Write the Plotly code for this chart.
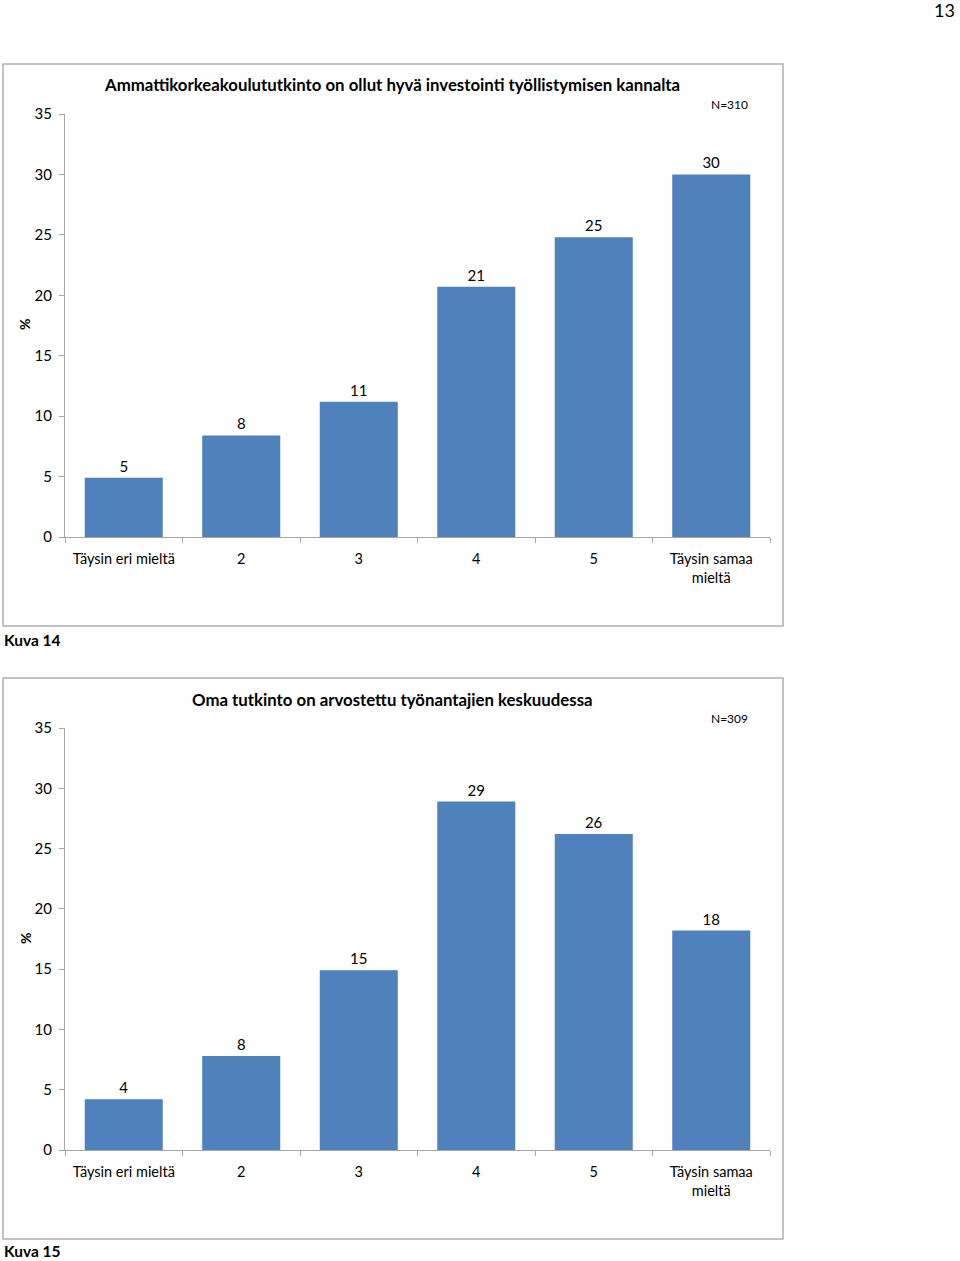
import plotly.graph_objects as go

categories = ["Täysin eri mieltä", "2", "3", "4", "5", "Täysin samaa<br>mieltä"]
values_14 = [4.9, 8.4, 11.2, 20.7, 24.8, 30.0]
labels_14 = ["5", "8", "11", "21", "25", "30"]
values_15 = [4.2, 7.8, 14.9, 28.9, 26.2, 18.2]
labels_15 = ["4", "8", "15", "29", "26", "18"]
title_14 = "Ammattikorkeakoulututkinto on ollut hyvä investointi työllistymisen kannalta"
title_15 = "Oma tutkinto on arvostettu työnantajien keskuudessa"
n_14 = "N=310"
n_15 = "N=309"
y_ticks = [0, 5, 10, 15, 20, 25, 30, 35]

W, H = 960, 1261
FONT = "Lato, 'Open Sans', sans-serif"
BLUE = "#4F81BD"
GREY = "#A6A6A6"

def py(px):
    return 1 - px / H

def px_x(px):
    return px / W

fig = go.Figure()
fig.add_trace(go.Bar(x=categories, y=values_14, text=labels_14, textposition="outside",
                     marker=dict(color=BLUE, line=dict(width=0)), cliponaxis=False,
                     textfont=dict(size=15, color="#000"), xaxis="x", yaxis="y", showlegend=False))
fig.add_trace(go.Bar(x=categories, y=values_15, text=labels_15, textposition="outside",
                     marker=dict(color=BLUE, line=dict(width=0)), cliponaxis=False,
                     textfont=dict(size=15, color="#000"), xaxis="x2", yaxis="y2", showlegend=False))

xdom = [px_x(65), px_x(770)]
xcommon = dict(type="category", domain=xdom, showline=True, linecolor=GREY, linewidth=1, ticks="outside",
               tickson="boundaries", ticklen=5, tickcolor=GREY, showgrid=False, automargin=False,
               ticklabelstandoff=9, zeroline=False,
               tickfont=dict(size=14.5, color="#000", family=FONT), fixedrange=True)
ycommon = dict(type="linear", range=[0, 35], tickvals=y_ticks, showline=True, linecolor=GREY, linewidth=1,
               ticks="outside", ticklen=5, tickcolor=GREY, showgrid=False, zeroline=False,
               automargin=False, fixedrange=True,
               tickfont=dict(size=15, color="#000", family=FONT), ticklabelstandoff=4)

fig.update_layout(
    template="none",
    width=W, height=H, margin=dict(l=0, r=0, t=0, b=0, pad=0, autoexpand=False),
    paper_bgcolor="white", plot_bgcolor="white",
    font=dict(family=FONT, color="#000"),
    bargap=0.336,
    xaxis=dict(anchor="y", **xcommon),
    yaxis=dict(domain=[py(537), py(114)], anchor="x", **ycommon),
    xaxis2=dict(anchor="y2", **xcommon),
    yaxis2=dict(domain=[py(1150), py(728)], anchor="x2", **ycommon),
)

shapes = []
for top, bot in [(64, 626), (678, 1239)]:
    shapes.append(dict(type="rect", xref="paper", yref="paper", x0=px_x(3), x1=px_x(783),
                       y0=py(bot), y1=py(top), line=dict(color="#B0B0B0", width=1.5)))
fig.update_layout(shapes=shapes)

ann = []
ann.append(dict(text="<b>" + title_14 + "</b>", x=px_x(392), y=py(85), xref="paper", yref="paper",
                showarrow=False, font=dict(size=16.8, family=FONT), xanchor="center", yanchor="middle"))
ann.append(dict(text="<b>" + title_15 + "</b>", x=px_x(392), y=py(699), xref="paper", yref="paper",
                showarrow=False, font=dict(size=16.8, family=FONT), xanchor="center", yanchor="middle"))
ann.append(dict(text=n_14, x=px_x(750), y=py(104), xref="paper", yref="paper", showarrow=False,
                font=dict(size=12, family=FONT), xanchor="right", yanchor="middle"))
ann.append(dict(text=n_15, x=px_x(750), y=py(718), xref="paper", yref="paper", showarrow=False,
                font=dict(size=12, family=FONT), xanchor="right", yanchor="middle"))
for yc in (325, 939):
    ann.append(dict(text="<b>%</b>", x=px_x(25), y=py(yc), xref="paper", yref="paper", showarrow=False,
                    textangle=-90, font=dict(size=14, family=FONT), xanchor="center", yanchor="middle"))
ann.append(dict(text="<b>Kuva 14</b>", x=px_x(2), y=py(640), xref="paper", yref="paper", showarrow=False,
                font=dict(size=15.5, family=FONT), xanchor="left", yanchor="middle"))
ann.append(dict(text="<b>Kuva 15</b>", x=px_x(2), y=py(1251), xref="paper", yref="paper", showarrow=False,
                font=dict(size=15.5, family=FONT), xanchor="left", yanchor="middle"))
ann.append(dict(text="13", x=px_x(957), y=py(10), xref="paper", yref="paper", showarrow=False,
                font=dict(size=18, family=FONT), xanchor="right", yanchor="middle"))
fig.update_layout(annotations=ann)

fig.write_html("out.html", config={"displayModeBar": False, "staticPlot": True},
               post_script="document.body.style.margin='0';document.body.style.overflow='hidden';")
